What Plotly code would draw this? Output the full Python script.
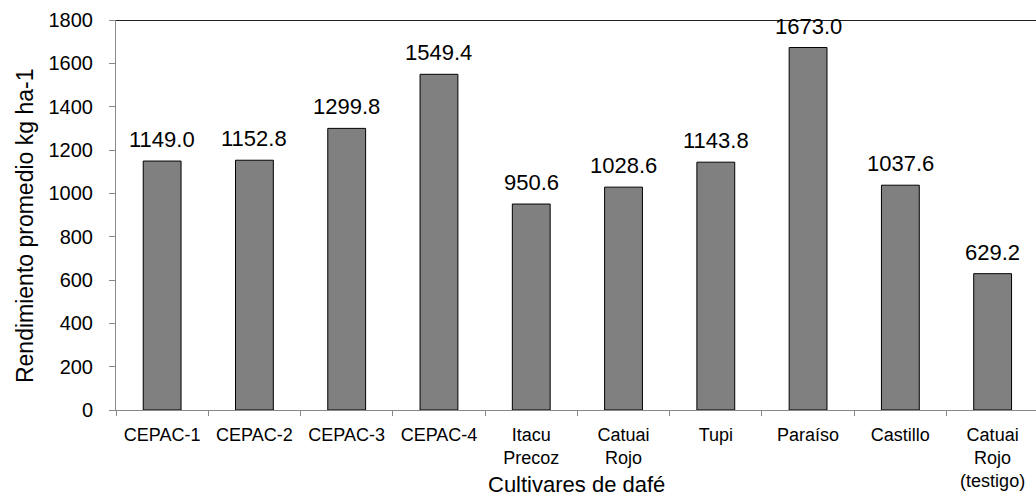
import plotly.graph_objects as go

categories = ["CEPAC-1", "CEPAC-2", "CEPAC-3", "CEPAC-4", "Itacu<br>Precoz", "Catuai<br>Rojo",
              "Tupi", "Paraíso", "Castillo", "Catuai<br>Rojo<br>(testigo)"]
values = [1149.0, 1152.8, 1299.8, 1549.4, 950.6, 1028.6, 1143.8, 1673.0, 1037.6, 629.2]
labels = [f"{v:.1f}" for v in values]
x_title = "Cultivares de dafé"
y_title = "Rendimiento promedio kg ha-1"

FONT = "Arial, Liberation Sans, sans-serif"

fig = go.Figure(go.Bar(
    x=categories, y=values,
    marker=dict(color="#808080", line=dict(color="black", width=1)),
    width=0.41,
))

for c, v, t in zip(categories, values, labels):
    fig.add_annotation(x=c, y=v, text=t, showarrow=False, yanchor="bottom",
                       yshift=7, font=dict(size=22, color="black", family=FONT))

fig.add_annotation(xref="paper", yref="paper", x=0.501, y=-0.19, text=x_title,
                   showarrow=False, xanchor="center", yanchor="middle",
                   font=dict(size=22, color="black", family=FONT))
fig.add_annotation(xref="paper", yref="paper", x=-0.099, y=0.474, text=y_title,
                   showarrow=False, xanchor="center", yanchor="middle", textangle=-90,
                   font=dict(size=23, color="black", family=FONT))

fig.add_shape(type="line", xref="paper", yref="y", x0=0, x1=1, y0=1800, y1=1800,
              line=dict(color="#222222", width=2))

fig.update_layout(
    width=1036, height=499,
    margin=dict(l=116, r=0, t=20, b=89),
    paper_bgcolor="white", plot_bgcolor="white",
    font=dict(family=FONT, color="black"),
    showlegend=False,
    xaxis=dict(
        type="category", range=[-0.5, 9.47], tickson="boundaries",
        ticks="outside", ticklen=5, tickcolor="#888888",
        showline=True, linecolor="#888888", linewidth=1,
        tickfont=dict(size=18, family=FONT),
        ticklabelstandoff=8,
        showgrid=False,
    ),
    yaxis=dict(
        range=[0, 1800], dtick=200, tick0=0,
        ticks="outside", ticklen=6, tickcolor="#888888",
        showline=True, linecolor="#888888", linewidth=1,
        tickfont=dict(size=20, family=FONT),
        ticklabelstandoff=12,
        showgrid=False, zeroline=False,
    ),
)

fig.write_html("out.html", config={"displayModeBar": False},
               post_script="document.body.style.margin='0px';")
